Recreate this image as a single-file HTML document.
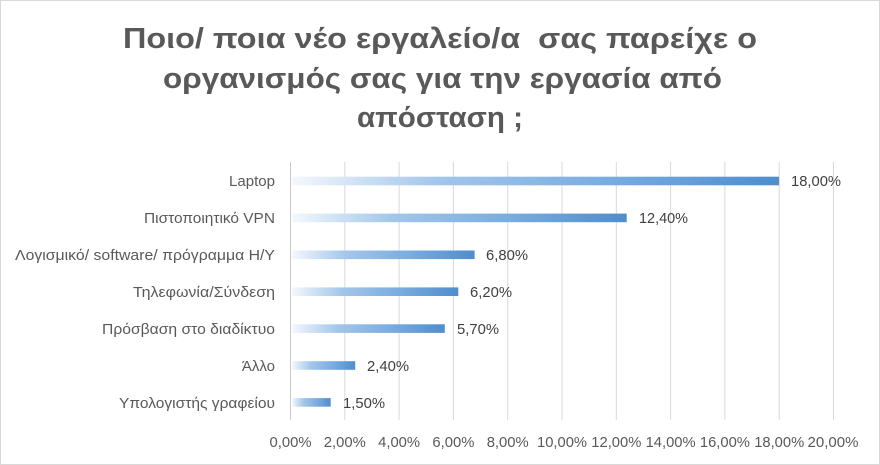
<!DOCTYPE html>
<html>
<head>
<meta charset="utf-8">
<style>
  html,body{margin:0;padding:0;background:#fff;}
  svg{display:block;}
  text{font-family:"Liberation Sans","Noto Sans CJK SC",sans-serif;}
</style>
</head>
<body>
<svg width="880" height="465" viewBox="0 0 880 465" xmlns="http://www.w3.org/2000/svg">
  <defs>
    <linearGradient id="g" x1="0" y1="0" x2="1" y2="0">
      <stop offset="0" stop-color="#f4f8fd"/>
      <stop offset="0.12" stop-color="#d3e4f5"/>
      <stop offset="0.3" stop-color="#a3c6ea"/>
      <stop offset="0.65" stop-color="#79acdf"/>
      <stop offset="1" stop-color="#4f8dcc"/>
    </linearGradient>
  </defs>
  <rect x="0.5" y="0.5" width="879" height="464" fill="#fff" stroke="#d9d9d9"/>

  <!-- Title -->
  <g fill="#595959" font-weight="bold" font-size="29">
    <text x="123" y="48" textLength="634" lengthAdjust="spacingAndGlyphs">Ποιο/ ποια νέο εργαλείο/α&#160; σας παρείχε ο</text>
    <text x="163" y="88" textLength="559" lengthAdjust="spacingAndGlyphs">οργανισμός σας για την εργασία από</text>
    <text x="357" y="127" textLength="166" lengthAdjust="spacingAndGlyphs">απόσταση ;</text>
  </g>

  <!-- Gridlines -->
  <g stroke="#d9d9d9" stroke-width="1">
    <line x1="344.8" y1="162" x2="344.8" y2="420"/>
    <line x1="399.1" y1="162" x2="399.1" y2="420"/>
    <line x1="453.4" y1="162" x2="453.4" y2="420"/>
    <line x1="507.7" y1="162" x2="507.7" y2="420"/>
    <line x1="562" y1="162" x2="562" y2="420"/>
    <line x1="616.3" y1="162" x2="616.3" y2="420"/>
    <line x1="670.6" y1="162" x2="670.6" y2="420"/>
    <line x1="724.9" y1="162" x2="724.9" y2="420"/>
    <line x1="779.2" y1="162" x2="779.2" y2="420"/>
    <line x1="833.5" y1="162" x2="833.5" y2="420"/>
  </g>
  <line x1="290.5" y1="162" x2="290.5" y2="420" stroke="#c8c8c8" stroke-width="1"/>

  <!-- Bars -->
  <g fill="url(#g)">
    <rect x="292" y="176.7" width="487" height="8.6"/>
    <rect x="292" y="213.6" width="334.7" height="8.6"/>
    <rect x="292" y="250.5" width="182.6" height="8.6"/>
    <rect x="292" y="287.4" width="166.3" height="8.6"/>
    <rect x="292" y="324.3" width="152.8" height="8.6"/>
    <rect x="292" y="361.2" width="63.2" height="8.6"/>
    <rect x="292" y="398.1" width="38.7" height="8.6"/>
  </g>

  <!-- Category labels -->
  <g fill="#595959" font-size="15" text-anchor="end">
    <text x="275" y="186" textLength="46" lengthAdjust="spacingAndGlyphs">Laptop</text>
    <text x="275" y="223" textLength="131" lengthAdjust="spacingAndGlyphs">Πιστοποιητικό VPN</text>
    <text x="275" y="260" textLength="260" lengthAdjust="spacingAndGlyphs">Λογισμικό/ software/ πρόγραμμα H/Y</text>
    <text x="275" y="297" textLength="142" lengthAdjust="spacingAndGlyphs">Τηλεφωνία/Σύνδεση</text>
    <text x="275" y="334" textLength="173" lengthAdjust="spacingAndGlyphs">Πρόσβαση στο διαδίκτυο</text>
    <text x="275" y="371">Άλλο</text>
    <text x="275" y="408" textLength="156" lengthAdjust="spacingAndGlyphs">Υπολογιστής γραφείου</text>
  </g>

  <!-- Value labels -->
  <g fill="#404040" font-size="15">
    <text x="791" y="186" textLength="50" lengthAdjust="spacingAndGlyphs">18,00%</text>
    <text x="639" y="223" textLength="49" lengthAdjust="spacingAndGlyphs">12,40%</text>
    <text x="486" y="260" textLength="42" lengthAdjust="spacingAndGlyphs">6,80%</text>
    <text x="470" y="297" textLength="42" lengthAdjust="spacingAndGlyphs">6,20%</text>
    <text x="457" y="334" textLength="42" lengthAdjust="spacingAndGlyphs">5,70%</text>
    <text x="367" y="371" textLength="42" lengthAdjust="spacingAndGlyphs">2,40%</text>
    <text x="343" y="408" textLength="42" lengthAdjust="spacingAndGlyphs">1,50%</text>
  </g>

  <!-- Tick labels -->
  <g fill="#595959" font-size="15" text-anchor="middle">
    <text x="290.5" y="447" textLength="42" lengthAdjust="spacingAndGlyphs">0,00%</text>
    <text x="344.8" y="447" textLength="42" lengthAdjust="spacingAndGlyphs">2,00%</text>
    <text x="399.1" y="447" textLength="42" lengthAdjust="spacingAndGlyphs">4,00%</text>
    <text x="453.4" y="447" textLength="42" lengthAdjust="spacingAndGlyphs">6,00%</text>
    <text x="507.7" y="447" textLength="42" lengthAdjust="spacingAndGlyphs">8,00%</text>
    <text x="562" y="447" textLength="50" lengthAdjust="spacingAndGlyphs">10,00%</text>
    <text x="616.3" y="447" textLength="50" lengthAdjust="spacingAndGlyphs">12,00%</text>
    <text x="670.6" y="447" textLength="50" lengthAdjust="spacingAndGlyphs">14,00%</text>
    <text x="724.9" y="447" textLength="50" lengthAdjust="spacingAndGlyphs">16,00%</text>
    <text x="779.2" y="447" textLength="50" lengthAdjust="spacingAndGlyphs">18,00%</text>
    <text x="833" y="447" textLength="51" lengthAdjust="spacingAndGlyphs">20,00%</text>
  </g>
</svg>
</body>
</html>
